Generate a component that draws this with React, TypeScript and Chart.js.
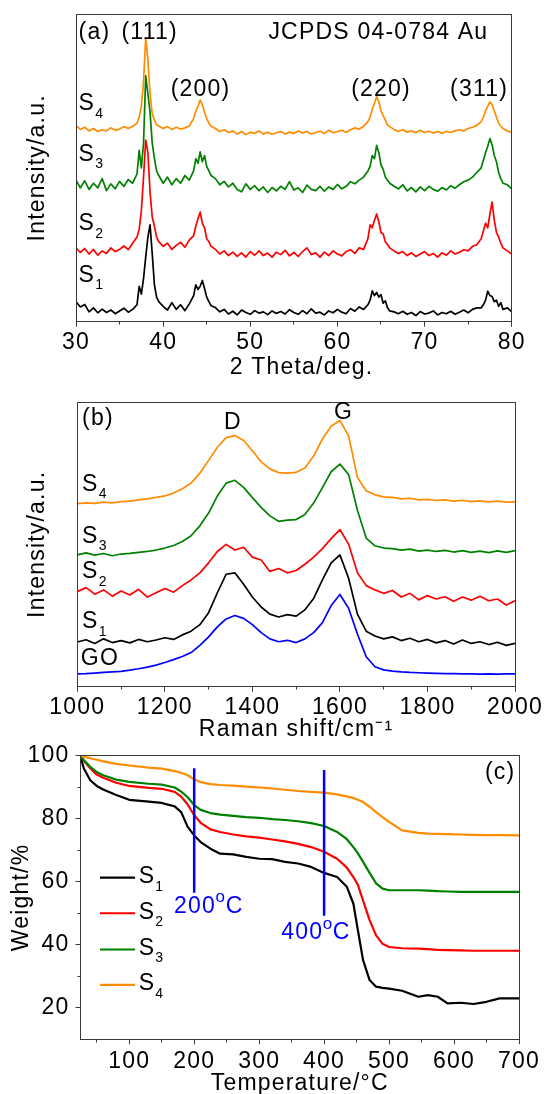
import React, { useEffect, useRef } from 'react';
import { Chart, registerables } from 'chart.js';

Chart.register(...registerables);

const FONT = "'Liberation Sans', Arial, Helvetica, sans-serif";
const FS = 23;
const SUB_FS = 14;
const LETTER = '1.2px';
const AXIS = '#3a3a3a';
const INK = '#000000';

const C_S1 = '#000000';
const C_S2 = '#ff0000';
const C_S3 = '#008000';
const C_S4 = '#ff8c00';
const C_GO = '#0000ff';
const C_MARK = '#0000ff';

// ---------------- Panel (a): XRD ----------------
const XRD_ANGLE = [
  30, 30.5, 31, 31.5, 32, 32.5, 33, 33.5, 34, 34.5, 35, 35.5, 36, 36.5,
  37, 37.25, 37.5, 37.75, 38, 38.25, 38.5, 38.75, 39, 39.25, 39.5,
  40, 40.5, 41, 41.5, 42, 42.5, 43,
  43.5, 43.75, 44, 44.25, 44.5, 44.75, 45, 45.25, 45.5,
  46, 46.5, 47, 47.5, 48, 48.5, 49, 49.5, 50, 50.5, 51, 51.5, 52, 52.5, 53, 53.5, 54, 54.5, 55,
  55.5, 56, 56.5, 57, 57.5, 58, 58.5, 59, 59.5, 60, 60.5, 61, 61.5, 62, 62.5, 63,
  63.5, 63.75, 64, 64.25, 64.5, 64.75, 65, 65.25, 65.5, 65.75, 66,
  66.5, 67, 67.5, 68, 68.5, 69, 69.5, 70, 70.5, 71, 71.5, 72, 72.5, 73, 73.5, 74, 74.5, 75, 75.5, 76,
  76.5, 76.75, 77, 77.25, 77.5, 77.75, 78, 78.25, 78.5, 78.75, 79,
  79.5, 80,
];
const XRD_S1 = [
  6.5, 4.8, 5.6, 3.2, 4.5, 2.9, 4.1, 3.0, 3.8, 2.6, 3.5, 4.4, 3.1, 4.0,
  5.5, 11.5, 9.0, 14.0, 21.0, 27.5, 31.5, 22.0, 12.0, 8.0, 6.5,
  5.0, 3.8, 6.2, 4.0, 5.5, 3.6, 5.8,
  8.5, 12.0, 10.5, 11.5, 13.4, 10.8, 8.0, 6.5, 5.2,
  4.6, 3.2, 4.0, 2.5, 3.4, 2.2, 3.8, 3.0, 2.4, 3.6, 2.8, 3.2, 2.3, 3.5, 2.7, 3.3, 2.5, 3.9, 3.0, 2.4,
  3.6, 2.6, 4.2, 2.8, 3.1, 2.2, 3.5, 2.9, 4.0, 3.1, 2.6, 4.3, 3.4, 4.8, 4.0,
  5.5, 7.0, 10.0, 8.5, 9.5, 8.0, 8.8, 6.0, 6.8, 4.5, 3.5,
  3.2, 2.6, 3.4, 2.4, 3.0, 2.0, 3.3, 2.5, 2.8, 3.5, 2.2, 3.0, 2.6, 3.4, 2.4, 3.1, 3.8, 2.9, 4.0, 4.5,
  4.5, 5.5, 7.0, 9.9, 8.5, 8.2, 6.5, 7.0, 5.0, 6.2, 4.0,
  4.5, 3.2,
];
const XRD_S2 = [
  24.0, 22.5, 23.8, 22.0, 23.5, 21.6, 23.0, 22.2, 24.0, 22.8, 23.5, 24.6, 23.4, 25.5,
  27.5, 30.0, 36.0, 47.0, 59.0, 55.0, 42.0, 34.0, 31.0, 27.5, 26.0,
  24.5, 25.5, 23.5, 24.8, 25.8, 24.2, 26.5,
  28.0, 31.0, 33.5, 35.6, 32.0, 30.5, 27.0, 26.0, 24.5,
  23.5, 22.0, 23.0, 21.5, 22.6, 21.2, 22.4, 21.0, 22.8, 21.6, 23.0, 21.5, 22.3, 21.0, 22.6, 21.8, 23.2, 21.4, 22.5, 21.2,
  22.8, 24.0, 21.8, 22.4, 21.0, 22.6, 21.5, 23.0, 22.0, 21.4, 22.8, 23.4, 22.2, 24.0, 23.5,
  27.0, 31.5, 30.5, 33.0, 35.0, 32.5, 29.0, 28.5, 26.0, 25.0, 24.0,
  23.0, 22.2, 22.8, 21.5, 22.4, 21.2, 22.0, 22.8, 21.5, 22.2, 21.0, 22.4, 21.6, 23.0, 22.0, 22.6, 23.4, 23.0, 24.5, 25.0,
  27.0, 29.5, 32.0, 30.5, 35.0, 38.9, 33.0, 29.0, 27.5, 25.5, 24.0,
  23.0, 22.0,
];
const XRD_S3 = [
  46.0, 43.5, 45.8, 43.0, 45.0, 43.5, 46.5, 42.6, 44.8, 43.2, 45.6, 44.0, 46.2, 45.0,
  48.0, 55.7, 50.0, 58.0, 80.0, 74.0, 68.0, 58.0, 53.0, 49.0, 47.5,
  45.0, 47.0, 44.5, 46.5, 45.0, 47.5, 46.0,
  49.0, 53.0, 51.5, 55.2, 52.0, 54.0, 50.5, 49.0, 47.5,
  46.5, 44.5, 45.6, 43.8, 45.0, 43.0, 42.2, 44.8, 43.0, 44.2, 42.6, 43.8, 42.0, 43.6, 42.5, 44.0, 43.0, 45.5, 42.8, 43.5,
  42.0, 44.4, 43.0, 42.6, 44.0, 42.4, 43.8, 43.0, 44.6, 43.2, 44.0, 45.5, 44.8, 46.0, 47.0,
  49.0, 50.5, 54.0, 53.0, 57.3, 55.0, 51.0, 49.5, 47.0, 46.0, 45.0,
  44.0, 43.2, 44.5, 42.5, 43.6, 42.2, 43.8, 42.6, 44.0, 43.0, 42.4, 43.6, 42.8, 44.2, 43.4, 44.5, 45.5, 46.0, 47.0, 48.5,
  50.0, 52.5, 55.0, 57.0, 59.5, 57.5, 54.0, 52.0, 48.5, 46.5, 45.0,
  44.5, 43.2,
];
const XRD_S4 = [
  63.8, 62.5, 63.2, 62.0, 62.8, 61.8, 62.4, 62.0, 63.0, 62.2, 62.6, 63.4, 62.8, 63.5,
  64.5, 66.5, 70.0, 78.0, 92.1, 85.0, 74.0, 67.5, 65.5, 64.0, 63.6,
  62.8, 63.4, 62.5, 63.2, 62.6, 63.0, 63.6,
  66.0, 68.5, 70.0, 72.0, 70.5, 68.0, 66.0, 64.5, 63.5,
  62.8, 61.8, 62.4, 61.5, 62.0, 61.0, 61.8, 60.8, 61.6, 61.2, 62.0, 61.0, 61.6, 60.9, 61.4, 61.8, 61.0, 61.6, 61.2, 62.0,
  61.3, 61.8, 61.0, 61.5, 61.9, 61.2, 62.2, 61.4, 61.8, 62.2, 61.5, 62.4, 63.0, 62.6, 63.5,
  65.0, 66.5, 69.0, 71.0, 73.1, 71.5, 68.5, 67.0, 65.5, 64.0, 63.4,
  62.5, 61.8, 62.4, 61.6, 62.0, 61.4, 62.2, 61.5, 61.9, 61.3, 61.8, 61.2, 61.9, 61.5, 62.0, 62.4, 62.0, 62.8, 63.2, 63.8,
  65.0, 66.5, 68.5, 70.0, 71.4, 70.5, 68.5, 66.5, 64.5, 63.6, 62.8,
  62.0, 61.5,
];
const XRD_MINOR = [35, 45, 55, 65, 75];

// ---------------- Panel (b): Raman ----------------
const RAMAN_SHIFT = [
  1000, 1020, 1040, 1060, 1080, 1100, 1120, 1140, 1160, 1180,
  1200, 1220, 1240, 1260, 1280, 1300, 1320, 1340, 1360, 1380,
  1400, 1420, 1440, 1460, 1480, 1500, 1520, 1540, 1560, 1580,
  1600, 1620, 1640, 1660, 1680, 1700, 1720, 1740, 1760, 1780,
  1800, 1820, 1840, 1860, 1880, 1900, 1920, 1940, 1960, 1980,
  2000,
];
const RAMAN_GO = [
  4.5, 4.6, 4.8, 5.0, 5.2, 5.4, 5.8, 6.3, 6.9, 7.6,
  8.5, 9.5, 10.6, 12.0, 14.5, 17.5, 21.0, 23.8, 25.0, 24.0,
  21.8, 19.0, 16.8, 15.8, 16.3, 15.5, 16.8, 19.0, 22.5, 28.5,
  32.4, 27.5, 18.5, 10.5, 7.0, 5.9, 5.5, 5.2, 5.0, 4.9,
  4.8, 4.7, 4.6, 4.6, 4.5, 4.5, 4.4, 4.5, 4.4, 4.5,
  4.5,
];
const RAMAN_S1 = [
  15.7, 16.5, 15.2, 16.8, 15.5, 16.2, 15.4, 16.6, 15.8, 16.4,
  17.2, 16.6, 18.2, 19.5, 21.8, 26.0, 33.0, 39.5, 40.0, 36.0,
  31.5, 28.0, 25.5, 24.5, 25.3, 24.8, 27.0, 31.0, 37.5, 43.5,
  46.3, 38.0, 25.5, 19.5, 17.8, 16.8, 17.5, 16.2, 17.0, 15.8,
  16.6, 15.4, 16.2, 15.0, 16.4, 15.2, 15.8, 14.8, 15.6, 14.5,
  15.2,
];
const RAMAN_S2 = [
  33.4, 34.8, 32.5, 34.0, 31.8, 33.6, 32.2, 34.2, 31.5, 33.0,
  34.5, 33.2, 35.5, 37.5, 40.0, 43.5, 47.5, 50.0, 48.0, 49.0,
  45.5, 44.5, 40.5, 41.5, 40.0, 40.8, 43.0, 45.5, 48.5, 52.0,
  55.2, 50.0, 40.0, 35.5, 34.0, 32.8, 33.8, 31.5, 32.8, 30.5,
  32.0, 30.8, 31.6, 30.0, 31.5, 30.4, 31.8, 30.2, 30.8, 28.7,
  30.2,
];
const RAMAN_S3 = [
  46.3, 47.0, 46.2, 46.8, 46.0, 46.6, 46.8, 47.2, 47.5, 48.0,
  48.7, 49.6, 51.0, 53.0, 56.5, 61.0, 67.0, 71.5, 72.5, 70.0,
  66.4, 63.0, 60.0, 58.1, 58.5, 58.7, 60.5, 64.5, 69.9, 75.5,
  78.2, 74.5, 62.0, 52.2, 49.5, 48.7, 48.5, 48.0, 48.3, 47.6,
  48.0, 47.5, 47.9, 47.3, 47.8, 47.2, 47.6, 47.1, 47.7, 47.2,
  47.8,
];
const RAMAN_S4 = [
  64.3, 64.6, 64.4, 64.8, 64.6, 65.0, 65.2, 65.6, 66.0, 66.5,
  67.0, 68.0, 69.5, 71.5, 75.0, 79.5, 84.1, 87.5, 88.2, 86.5,
  82.9, 79.0, 76.5, 75.2, 75.0, 75.3, 76.8, 81.0, 87.0, 91.5,
  93.5, 88.0, 73.5, 68.8, 67.4, 66.7, 66.5, 66.0, 66.2, 65.6,
  65.8, 65.4, 65.6, 65.2, 65.5, 65.0, 65.3, 64.9, 65.2, 64.8,
  64.9,
];
const RAMAN_MINOR = [1100, 1300, 1500, 1700, 1900];

// ---------------- Panel (c): TGA ----------------
const TGA_TEMP = [
  25, 30, 40, 50, 60, 80, 100, 130, 150, 170,
  180, 190, 200, 210, 225, 240, 260, 280, 300, 320,
  340, 360, 380, 400, 420, 435, 445, 452, 460, 470,
  480, 490, 500, 520, 545, 560, 575, 590, 610, 630,
  650, 670, 700,
];
const TGA_S1 = [
  99.8, 96.0, 92.2, 90.4, 89.3, 87.5, 86.0, 85.4, 85.0, 83.9,
  82.1, 77.4, 74.7, 72.6, 70.5, 68.9, 68.7, 67.9, 67.3, 67.2,
  66.3, 65.8, 64.7, 62.8, 61.5, 58.4, 53.1, 44.6, 35.1, 28.8,
  26.7, 26.3, 26.1, 25.4, 23.5, 24.0, 23.5, 21.4, 21.6, 21.2,
  21.9, 23.0, 23.0,
];
const TGA_S2 = [
  100, 98.5, 96.0, 94.0, 93.0, 91.4, 90.4, 89.8, 89.5, 88.5,
  87.0, 84.5, 81.1, 78.7, 76.6, 75.8, 75.0, 74.4, 74.0, 73.4,
  72.8, 72.0, 71.0, 69.5, 67.3, 64.5, 61.5, 59.0, 54.0, 47.8,
  43.0, 40.3, 39.3, 38.9, 38.8, 38.6, 38.4, 38.3, 38.2, 38.1,
  38.1, 38.1, 38.1,
];
const TGA_S3 = [
  100, 98.6, 96.5, 94.8, 93.8, 92.4, 91.7, 91.1, 90.8, 89.9,
  88.6, 86.8, 84.3, 82.8, 81.8, 81.3, 80.9, 80.5, 80.3, 79.9,
  79.6, 79.2, 78.6, 77.7, 75.8, 73.5, 71.0, 69.0, 66.3, 62.8,
  59.5, 57.8, 57.3, 57.3, 57.3, 57.2, 57.0, 56.9, 56.8, 56.8,
  56.8, 56.8, 56.8,
];
const TGA_S4 = [
  100, 99.7, 99.2, 98.7, 98.2, 97.4, 96.9, 96.2, 95.9, 95.1,
  94.6, 93.8, 92.5, 91.6, 91.0, 90.7, 90.5, 90.2, 89.9, 89.6,
  89.2, 88.8, 88.5, 88.3, 87.7, 87.1, 86.6, 86.0, 85.3, 83.8,
  82.1, 80.5, 79.0, 76.3, 75.5, 75.3, 75.2, 75.1, 75.0, 74.9,
  74.8, 74.8, 74.7,
];
const TGA_MARK_T = [200, 400];
const TGA_MARK_TOP = [96.0, 95.5];
const TGA_MARK_BOTTOM = [56.5, 49.2];
const TGA_X_MINOR = [50, 150, 250, 350, 450, 550, 650];
const TGA_Y_MINOR = [30, 50, 70, 90];

// ---------------- helpers ----------------
const pts = (xs: number[], ys: number[]) => xs.map((x, i) => ({ x, y: ys[i] }));

const lineDs = (label: string, data: any[], color: string, width: number, order = 1) => ({
  label,
  data,
  borderColor: color,
  backgroundColor: color,
  borderWidth: width,
  pointRadius: 0,
  pointHoverRadius: 0,
  fill: false,
  tension: 0,
  order,
  borderJoinStyle: 'round',
});

function put(ctx: any, s: string, x: number, y: number, o: { size?: number; color?: string; align?: string } = {}) {
  ctx.font = `${o.size ?? FS}px ${FONT}`;
  ctx.fillStyle = o.color ?? INK;
  ctx.textAlign = o.align ?? 'left';
  ctx.textBaseline = 'middle';
  ctx.fillText(s, x, y);
  return ctx.measureText(s).width;
}
function putSub(ctx: any, main: string, sub: string, x: number, y: number, color = INK) {
  const w = put(ctx, main, x, y, { color });
  put(ctx, sub, x + w, y + 10, { size: SUB_FS, color });
}
function putDeg(ctx: any, num: string, unit: string, x: number, y: number, color: string) {
  const w = put(ctx, num, x, y, { color });
  const w2 = put(ctx, 'o', x + w - 0.5, y - 9, { size: 17, color });
  put(ctx, unit, x + w + w2 - 1, y, { color });
}

type Spec = {
  datasets: any[];
  xMin: number; xMax: number; xStep: number; xMinor: number[];
  yMin: number; yMax: number; yStep?: number; yMinor?: number[]; showY: boolean;
  xTitle: string; yTitle: string;
  left: number; rightPad: number; top: number; xAxisH: number;
  xTickPad: number; xTitlePad: number; yTitlePad: number; yTickPad?: number;
  draw: (ctx: any, xs: any, ys: any) => void;
};

function buildChart(canvas: HTMLCanvasElement, s: Spec) {
  const font = { family: FONT, size: FS };
  const MAJOR = 5;
  const MINOR = 3;
  const overlay = {
    id: 'overlay',
    afterInit(chart: any) {
      chart.ctx.letterSpacing = LETTER;
    },
    afterDraw(chart: any) {
      const { ctx, chartArea: a, scales } = chart;
      const xs = scales.x;
      const ys = scales.y;
      ctx.save();
      ctx.strokeStyle = AXIS;
      ctx.lineWidth = 1;
      const L = Math.round(a.left - 0.5) + 0.5;
      const R = Math.round(a.right - 0.5) + 0.5;
      const T = Math.round(a.top - 0.5) + 0.5;
      const B = Math.round(a.bottom - 0.5) + 0.5;
      ctx.strokeRect(L, T, R - L, B - T);
      ctx.beginPath();
      for (const v of s.xMinor) {
        const p = Math.round(xs.getPixelForValue(v) - 0.5) + 0.5;
        ctx.moveTo(p, B);
        ctx.lineTo(p, B + MINOR);
      }
      for (const v of s.yMinor || []) {
        const p = Math.round(ys.getPixelForValue(v) - 0.5) + 0.5;
        ctx.moveTo(L - MINOR, p);
        ctx.lineTo(L, p);
      }
      ctx.stroke();
      s.draw(ctx, (v: number) => xs.getPixelForValue(v), (v: number) => ys.getPixelForValue(v));
      ctx.restore();
    },
  };

  return new Chart(canvas, {
    type: 'line',
    data: { datasets: s.datasets },
    plugins: [overlay],
    options: {
      responsive: false,
      animation: false,
      events: [],
      layout: { padding: { top: s.top, right: s.rightPad, left: 0, bottom: 0 } },
      plugins: { legend: { display: false }, tooltip: { enabled: false } },
      scales: {
        x: {
          type: 'linear',
          min: s.xMin,
          max: s.xMax,
          afterFit: (sc: any) => { sc.height = s.xAxisH; },
          ticks: {
            stepSize: s.xStep,
            includeBounds: false,
            autoSkip: false,
            maxRotation: 0,
            minRotation: 0,
            font,
            color: INK,
            padding: s.xTickPad,
            callback: (v: any) => String(v),
          },
          grid: {
            display: true,
            drawOnChartArea: false,
            drawTicks: true,
            tickLength: MAJOR,
            tickWidth: 1,
            tickColor: AXIS,
            color: AXIS,
          },
          border: { display: true, color: AXIS, width: 1 },
          title: { display: true, text: s.xTitle, font, color: INK, padding: { top: 0, bottom: s.xTitlePad } },
        },
        y: {
          type: 'linear',
          min: s.yMin,
          max: s.yMax,
          afterFit: (sc: any) => { sc.width = s.left; },
          ticks: {
            display: s.showY,
            stepSize: s.yStep,
            includeBounds: false,
            font,
            color: INK,
            padding: s.yTickPad ?? 6,
            callback: (v: any) => String(v),
          },
          grid: {
            display: s.showY,
            drawOnChartArea: false,
            drawTicks: s.showY,
            tickLength: MAJOR,
            tickWidth: 1,
            tickColor: AXIS,
            color: AXIS,
          },
          border: { display: true, color: AXIS, width: 1 },
          title: { display: true, text: s.yTitle, font, color: INK, padding: { top: s.yTitlePad, bottom: 0 } },
        },
      },
    } as any,
  });
}

function panelA(canvas: HTMLCanvasElement) {
  return buildChart(canvas, {
    datasets: [
      lineDs('S1', pts(XRD_ANGLE, XRD_S1), C_S1, 1.7, 4),
      lineDs('S2', pts(XRD_ANGLE, XRD_S2), C_S2, 1.7, 3),
      lineDs('S3', pts(XRD_ANGLE, XRD_S3), C_S3, 1.7, 2),
      lineDs('S4', pts(XRD_ANGLE, XRD_S4), C_S4, 1.7, 1),
    ],
    xMin: 30, xMax: 80, xStep: 10, xMinor: XRD_MINOR,
    yMin: 0, yMax: 100, showY: false,
    xTitle: '  2 Theta/deg.', yTitle: 'Intensity/a.u.',
    left: 76, rightPad: 35.3, top: 14, xAxisH: 63.3,
    xTickPad: 2.0, xTitlePad: 3.5, yTitlePad: 24.2,
    draw: (ctx, X, Y) => {
      put(ctx, '(a)', X(30.3), Y(94.0));
      put(ctx, '(111)', X(38.45), Y(94.0), { align: 'center' });
      put(ctx, 'JCPDS 04-0784 Au', X(64.7), Y(93.9), { align: 'center' });
      put(ctx, '(200)', X(44.3), Y(75.3), { align: 'center' });
      put(ctx, '(220)', X(65.0), Y(75.3), { align: 'center' });
      put(ctx, '(311)', X(76.25), Y(75.3), { align: 'center' });
      putSub(ctx, 'S', '4', X(30.3), Y(70.7));
      putSub(ctx, 'S', '3', X(30.3), Y(54.4));
      putSub(ctx, 'S', '2', X(30.3), Y(31.8));
      putSub(ctx, 'S', '1', X(30.3), Y(15.1));
    },
  });
}

function panelB(canvas: HTMLCanvasElement) {
  return buildChart(canvas, {
    datasets: [
      lineDs('GO', pts(RAMAN_SHIFT, RAMAN_GO), C_GO, 1.7, 5),
      lineDs('S1', pts(RAMAN_SHIFT, RAMAN_S1), C_S1, 1.7, 4),
      lineDs('S2', pts(RAMAN_SHIFT, RAMAN_S2), C_S2, 1.7, 3),
      lineDs('S3', pts(RAMAN_SHIFT, RAMAN_S3), C_S3, 1.7, 2),
      lineDs('S4', pts(RAMAN_SHIFT, RAMAN_S4), C_S4, 1.7, 1),
    ],
    xMin: 1000, xMax: 2000, xStep: 200, xMinor: RAMAN_MINOR,
    yMin: 0, yMax: 100, showY: false,
    xTitle: 'Raman shift/cm\u207B\u00B9', yTitle: 'Intensity/a.u.',
    left: 77.3, rightPad: 32, top: 22, xAxisH: 63.3,
    xTickPad: 1.8, xTitlePad: 6.2, yTitlePad: 24.2,
    draw: (ctx, X, Y) => {
      put(ctx, '(b)', X(1011), Y(94.1));
      put(ctx, 'D', X(1355.7), Y(92.9), { align: 'center' });
      put(ctx, 'G', X(1608.5), Y(96.1), { align: 'center' });
      putSub(ctx, 'S', '4', X(1011), Y(71.1));
      putSub(ctx, 'S', '3', X(1011), Y(52.8));
      putSub(ctx, 'S', '2', X(1011), Y(40.4));
      putSub(ctx, 'S', '1', X(1011), Y(22.8));
      put(ctx, 'GO', X(1008), Y(10.0));
    },
  });
}

function panelC(canvas: HTMLCanvasElement) {
  const legend = [
    { n: '1', c: C_S1, y: 61.3 },
    { n: '2', c: C_S2, y: 50.0 },
    { n: '3', c: C_S3, y: 38.5 },
    { n: '4', c: C_S4, y: 27.3 },
  ];
  return buildChart(canvas, {
    datasets: [
      lineDs('200', [{ x: TGA_MARK_T[0], y: TGA_MARK_BOTTOM[0] }, { x: TGA_MARK_T[0], y: TGA_MARK_TOP[0] }], C_MARK, 2.5, 0),
      lineDs('400', [{ x: TGA_MARK_T[1], y: TGA_MARK_BOTTOM[1] }, { x: TGA_MARK_T[1], y: TGA_MARK_TOP[1] }], C_MARK, 2.5, 0),
      lineDs('S1', pts(TGA_TEMP, TGA_S1), C_S1, 2.2, 4),
      lineDs('S2', pts(TGA_TEMP, TGA_S2), C_S2, 2.2, 3),
      lineDs('S3', pts(TGA_TEMP, TGA_S3), C_S3, 2.2, 2),
      lineDs('S4', pts(TGA_TEMP, TGA_S4), C_S4, 2.2, 1),
    ],
    xMin: 25, xMax: 700, xStep: 100, xMinor: TGA_X_MINOR,
    yMin: 10, yMax: 100, yStep: 20, yMinor: TGA_Y_MINOR, showY: true,
    xTitle: 'Temperature/\u00B0C', yTitle: 'Weight/%',
    left: 80.5, rightPad: 28, top: 20.7, xAxisH: 64.7,
    xTickPad: 3.6, xTitlePad: 6.9, yTitlePad: 7.4, yTickPad: 6,
    draw: (ctx, X, Y) => {
      put(ctx, '(c)', X(670.9), Y(94.5), { align: 'center' });
      for (const l of legend) {
        ctx.beginPath();
        ctx.strokeStyle = l.c;
        ctx.lineWidth = 2.2;
        ctx.moveTo(X(55), Y(l.y));
        ctx.lineTo(X(109), Y(l.y));
        ctx.stroke();
        putSub(ctx, 'S', l.n, X(114.5), Y(l.y) - 1);
      }
      putDeg(ctx, '200', 'C', X(169), Y(52.1), C_MARK);
      putDeg(ctx, '400', 'C', X(334), Y(43.7), C_MARK);
    },
  });
}

export default function App() {
  const ra = useRef<HTMLCanvasElement>(null);
  const rb = useRef<HTMLCanvasElement>(null);
  const rc = useRef<HTMLCanvasElement>(null);

  useEffect(() => {
    const charts = [panelA(ra.current!), panelB(rb.current!), panelC(rc.current!)];
    return () => charts.forEach((c) => c.destroy());
  }, []);

  return (
    <div style={{ position: 'absolute', left: 0, top: 0, width: 547, height: 1094, overflow: 'hidden', background: '#ffffff' }}>
      <canvas ref={ra} width={547} height={385} style={{ position: 'absolute', left: 0, top: 0, width: 547, height: 385 }} />
      <canvas ref={rb} width={547} height={370} style={{ position: 'absolute', left: 0, top: 380, width: 547, height: 370 }} />
      <canvas ref={rc} width={547} height={369} style={{ position: 'absolute', left: 0, top: 735, width: 547, height: 369 }} />
    </div>
  );
}
